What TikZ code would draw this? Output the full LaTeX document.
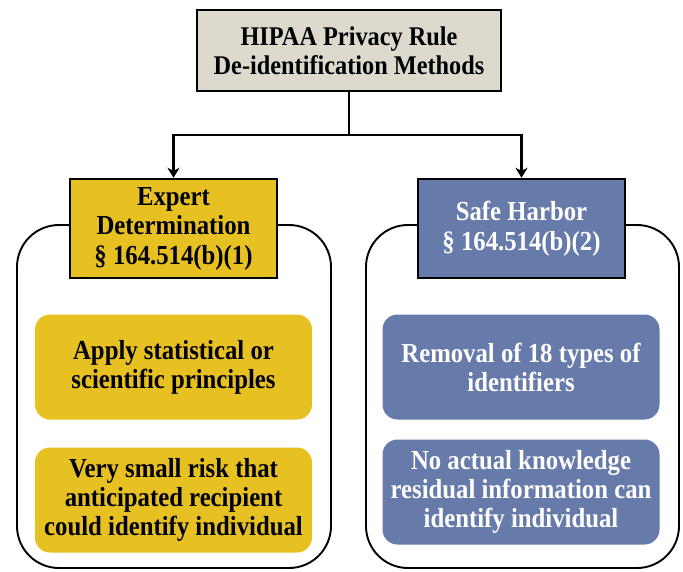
\documentclass[tikz,border=0pt]{standalone}
\usepackage{fontspec}
\setmainfont[FakeStretch=0.9]{Liberation Serif}
\usetikzlibrary{arrows.meta,positioning}
\definecolor{beigefill}{RGB}{221,217,205}
\definecolor{goldfill}{RGB}{231,192,33}
\definecolor{bluefill}{RGB}{102,123,170}
\tikzset{
  headbox/.style={draw=black,line width=2.4pt,minimum width=#1,minimum height=99pt,align=center,inner sep=0pt,
    font=\fontsize{27.5}{29.5}\selectfont\bfseries},
  titlebox/.style={draw=black,line width=2.4pt,fill=beigefill,minimum width=304pt,minimum height=81pt,align=center,inner sep=0pt,
    font=\fontsize{27}{29}\selectfont\bfseries},
  itembox/.style={rounded corners=15pt,minimum width=277pt,minimum height=105pt,align=center,inner sep=0pt,
    font=\fontsize{27.5}{29}\selectfont\bfseries},
  container/.style={draw=black,line width=1.9pt,rounded corners=42pt},
  conn/.style={draw=black,line width=2.2pt,-{Stealth[length=10pt,width=12pt,inset=3pt]}}
}
\begin{document}
\begin{tikzpicture}[x=1pt,y=-1pt]
\useasboundingbox (0,0) rectangle (683,571);
% containers
\draw[container] (17,225) rectangle (331,568);
\draw[container] (366,225) rectangle (679,568);
% title
\node[titlebox] (top) at (349,50.5) {HIPAA Privacy Rule\\De-identification Methods};
% headers
\node[headbox=207pt,fill=goldfill] (lh) at (173.5,228.5) {Expert\\Determination\\§ 164.514(b)(1)};
\node[headbox=207pt,fill=bluefill,text=white] (rh) at (521.5,228.5) {Safe Harbor\\§ 164.514(b)(2)};
% items
\node[itembox,fill=goldfill] (l1) at (173.5,367) {Apply statistical or\\scientific principles};
\node[itembox,fill=goldfill] (l2) at (173.5,500) {Very small risk that\\anticipated recipient\\could identify individual};
\node[itembox,fill=bluefill,text=white] (r1) at (521,367) {Removal of 18 types of\\identifiers};
\node[itembox,fill=bluefill,text=white] (r2) at (521,492) {No actual knowledge\\residual information can\\identify individual};
% connectors
\coordinate (j) at (349,135);
\draw[line width=2.2pt] (top.south) -- (j);
\draw[conn] (j) -| (lh.north);
\draw[conn] (j) -| (rh.north);
\end{tikzpicture}
\end{document}
